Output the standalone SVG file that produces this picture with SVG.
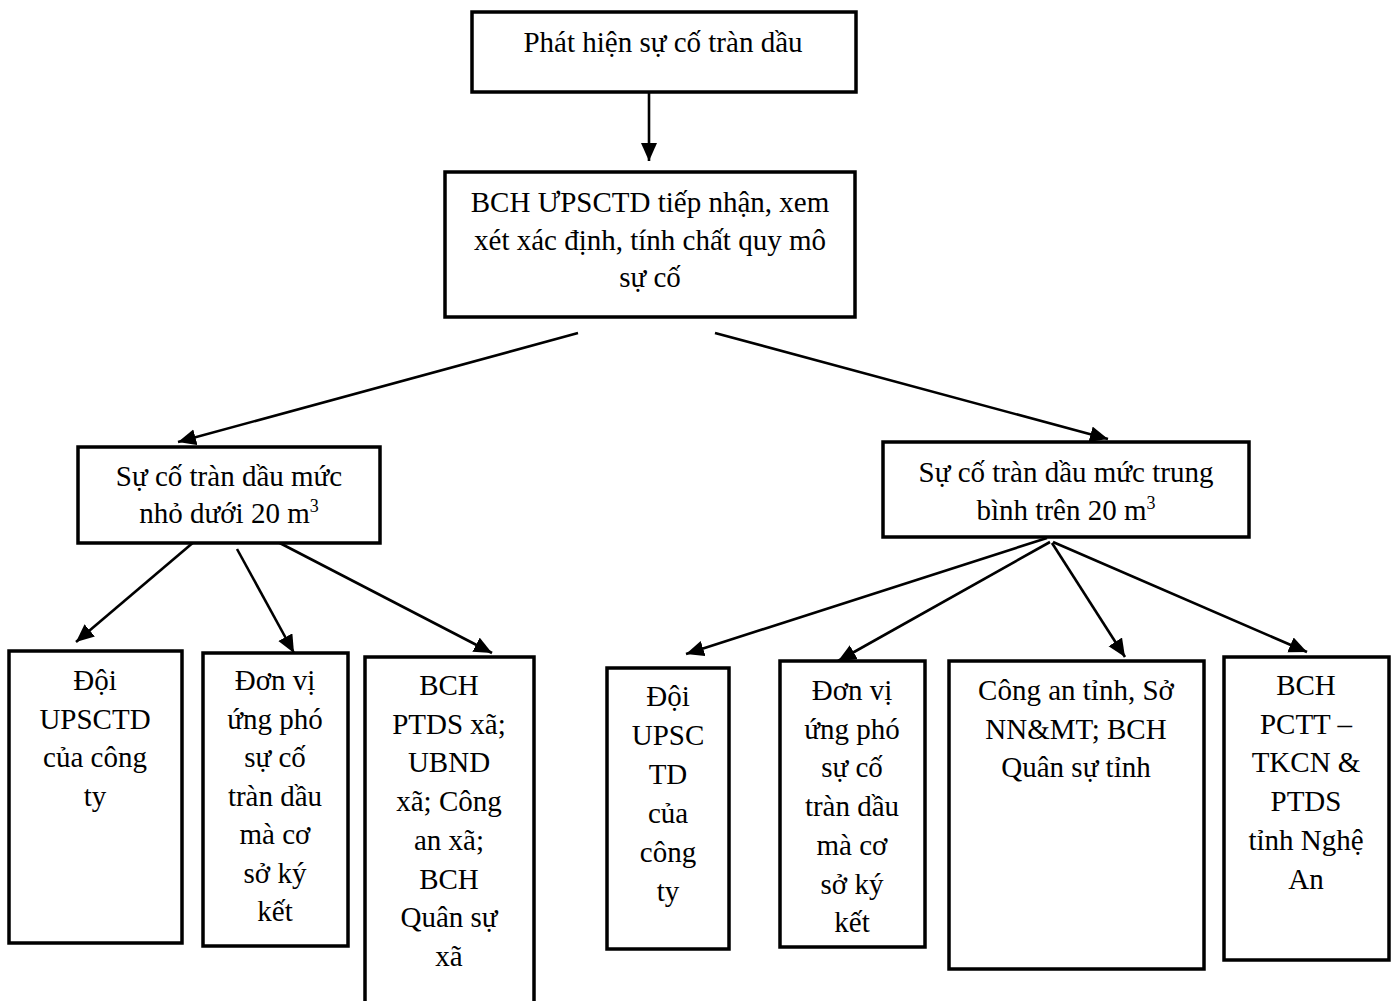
<svg xmlns="http://www.w3.org/2000/svg" width="1397" height="1001" viewBox="0 0 1397 1001">
<style>
.box{fill:#fff;stroke:#000;stroke-width:3.5}
.t{font-family:"Liberation Serif","Times New Roman",serif;font-size:29px;fill:#000;text-anchor:middle}
.c{stroke:#000;stroke-width:2.6;fill:none;marker-end:url(#ah)}
</style>
<defs>
<marker id="ah" markerUnits="userSpaceOnUse" markerWidth="19" markerHeight="17" refX="18" refY="8" orient="auto">
<path d="M0,0 L18,8 L0,16 z" fill="#000"/>
</marker>
</defs>
<rect width="1397" height="1001" fill="#fff"/>
<g id="connectors">
<line class="c" x1="649" y1="93" x2="649" y2="161"/>
<line class="c" x1="578" y1="333" x2="178" y2="442"/>
<line class="c" x1="715" y1="333" x2="1108" y2="439"/>
<line class="c" x1="195" y1="541" x2="76" y2="642"/>
<line class="c" x1="237" y1="549" x2="294" y2="653"/>
<line class="c" x1="272" y1="539" x2="492" y2="653"/>
<line class="c" x1="1047" y1="538" x2="686" y2="654"/>
<line class="c" x1="1050" y1="542" x2="838" y2="661"/>
<line class="c" x1="1052" y1="543" x2="1125" y2="657"/>
<line class="c" x1="1053" y1="542" x2="1307" y2="652"/>
</g>
<g id="n1">
<rect class="box" x="472" y="12" width="384" height="80"/>
<text class="t" x="663" y="52">Phát hiện sự cố tràn dầu</text>
</g>
<g id="n2">
<rect class="box" x="445" y="172" width="410" height="145"/>
<text class="t" x="650" y="212">BCH ƯPSCTD tiếp nhận, xem</text>
<text class="t" x="650" y="250">xét xác định, tính chất quy mô</text>
<text class="t" x="650" y="287">sự cố</text>
</g>
<g id="n3">
<rect class="box" x="78" y="447" width="302" height="96"/>
<text class="t" x="229" y="486">Sự cố tràn dầu mức</text>
<text class="t" x="229" y="523">nhỏ dưới 20 m<tspan font-size="18" dy="-11">3</tspan></text>
</g>
<g id="n4">
<rect class="box" x="883" y="442" width="366" height="95"/>
<text class="t" x="1066" y="482">Sự cố tràn dầu mức trung</text>
<text class="t" x="1066" y="520">bình trên 20 m<tspan font-size="18" dy="-11">3</tspan></text>
</g>
<g id="n5">
<rect class="box" x="9" y="651" width="173" height="292"/>
<text class="t" x="95" y="690">Đội</text>
<text class="t" x="95" y="728.5">UPSCTD</text>
<text class="t" x="95" y="767">của công</text>
<text class="t" x="95" y="805.5">ty</text>
</g>
<g id="n6">
<rect class="box" x="203" y="653" width="145" height="293"/>
<text class="t" x="275" y="690">Đơn vị</text>
<text class="t" x="275" y="728.5">ứng phó</text>
<text class="t" x="275" y="767">sự cố</text>
<text class="t" x="275" y="805.5">tràn dầu</text>
<text class="t" x="275" y="844">mà cơ</text>
<text class="t" x="275" y="882.5">sở ký</text>
<text class="t" x="275" y="921">kết</text>
</g>
<g id="n7">
<rect class="box" x="365" y="657" width="169" height="360"/>
<text class="t" x="449" y="695">BCH</text>
<text class="t" x="449" y="733.7">PTDS xã;</text>
<text class="t" x="449" y="772.4">UBND</text>
<text class="t" x="449" y="811.1">xã; Công</text>
<text class="t" x="449" y="849.8">an xã;</text>
<text class="t" x="449" y="888.5">BCH</text>
<text class="t" x="449" y="927.2">Quân sự</text>
<text class="t" x="449" y="965.9">xã</text>
</g>
<g id="n8">
<rect class="box" x="607" y="668" width="122" height="281"/>
<text class="t" x="668" y="706">Đội</text>
<text class="t" x="668" y="745">UPSC</text>
<text class="t" x="668" y="784">TD</text>
<text class="t" x="668" y="823">của</text>
<text class="t" x="668" y="862">công</text>
<text class="t" x="668" y="901">ty</text>
</g>
<g id="n9">
<rect class="box" x="780" y="661" width="145" height="286"/>
<text class="t" x="852" y="700">Đơn vị</text>
<text class="t" x="852" y="738.7">ứng phó</text>
<text class="t" x="852" y="777.4">sự cố</text>
<text class="t" x="852" y="816.1">tràn dầu</text>
<text class="t" x="852" y="854.8">mà cơ</text>
<text class="t" x="852" y="893.5">sở ký</text>
<text class="t" x="852" y="932.2">kết</text>
</g>
<g id="n10">
<rect class="box" x="949" y="661" width="255" height="308"/>
<text class="t" x="1076" y="700">Công an tỉnh, Sở</text>
<text class="t" x="1076" y="738.7">NN&amp;MT; BCH</text>
<text class="t" x="1076" y="777.4">Quân sự tỉnh</text>
</g>
<g id="n11">
<rect class="box" x="1224" y="657" width="165" height="303"/>
<text class="t" x="1306" y="695">BCH</text>
<text class="t" x="1306" y="733.7">PCTT –</text>
<text class="t" x="1306" y="772.4">TKCN &amp;</text>
<text class="t" x="1306" y="811.1">PTDS</text>
<text class="t" x="1306" y="849.8">tỉnh Nghệ</text>
<text class="t" x="1306" y="888.5">An</text>
</g>
</svg>
